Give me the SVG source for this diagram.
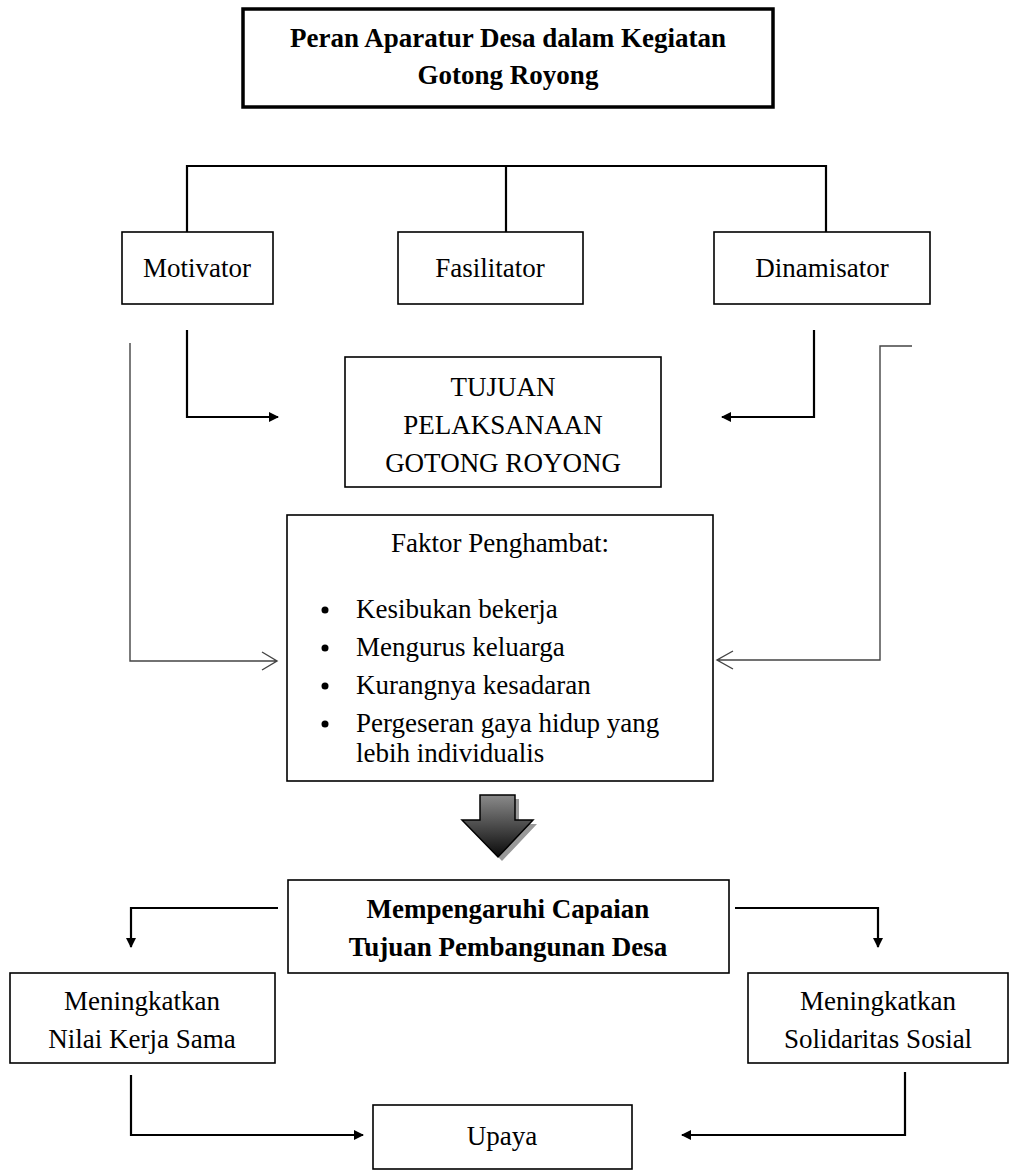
<svg xmlns="http://www.w3.org/2000/svg" width="1017" height="1173" viewBox="0 0 1017 1173">
<style>
text{font-family:"Liberation Serif","Times New Roman",serif;font-size:27px;fill:#000;text-anchor:middle}
.b{font-weight:bold}
.box{fill:#fff;stroke:#000;stroke-width:1.6}
.thick{fill:#fff;stroke:#000;stroke-width:3.5}
.ln{fill:none;stroke:#000;stroke-width:2.2}
.thin{fill:none;stroke:#444;stroke-width:1.4}
.lt{text-anchor:start}
</style>
<defs>
<marker id="ah" markerWidth="10" markerHeight="10" refX="9" refY="5" orient="auto" markerUnits="userSpaceOnUse" viewBox="0 0 10 10">
<path d="M0,0 L10,5 L0,10 z" fill="#000"/>
</marker>
<linearGradient id="g" x1="0" y1="0" x2="0" y2="1">
<stop offset="0" stop-color="#8a8a8a"/>
<stop offset="1" stop-color="#0a0a0a"/>
</linearGradient>
</defs>
<g id="connectors">
<path class="ln" d="M187,232 V166 H826 V232 M506,166 V232"/>
<path class="ln" d="M187,330 V417 H278" marker-end="url(#ah)"/>
<path class="ln" d="M814,330 V417 H722" marker-end="url(#ah)"/>
<path class="thin" d="M130,343 V661 H277 M262,652 L277,661 L262,670"/>
<path class="thin" d="M912,346 H880 V660 H717 M733,651 L717,660 L733,669"/>
<path class="ln" d="M278,908 H131 V947" marker-end="url(#ah)"/>
<path class="ln" d="M735,908 H878 V947" marker-end="url(#ah)"/>
<path class="ln" d="M131,1075 V1135 H363" marker-end="url(#ah)"/>
<path class="ln" d="M905,1072 V1135 H682" marker-end="url(#ah)"/>
</g>
<g id="title">
<rect class="thick" x="243" y="9" width="530" height="98"/>
<text class="b" x="508" y="47">Peran Aparatur Desa dalam Kegiatan</text>
<text class="b" x="508" y="84">Gotong Royong</text>
</g>
<g id="motivator">
<rect class="box" x="122" y="232" width="151" height="72"/>
<text x="197" y="277">Motivator</text>
</g>
<g id="fasilitator">
<rect class="box" x="398" y="232" width="185" height="72"/>
<text x="490" y="277">Fasilitator</text>
</g>
<g id="dinamisator">
<rect class="box" x="714" y="232" width="216" height="72"/>
<text x="822" y="277">Dinamisator</text>
</g>
<g id="tujuan">
<rect class="box" x="345" y="357" width="316" height="130"/>
<text x="503" y="396">TUJUAN</text>
<text x="503" y="434">PELAKSANAAN</text>
<text x="503" y="472">GOTONG ROYONG</text>
</g>
<g id="faktor">
<rect class="box" x="287" y="515" width="426" height="266"/>
<text x="500" y="552">Faktor Penghambat:</text>
<g>
<circle cx="325" cy="610" r="3.5"/><text class="lt" x="356" y="618">Kesibukan bekerja</text>
<circle cx="325" cy="648" r="3.5"/><text class="lt" x="356" y="656">Mengurus keluarga</text>
<circle cx="325" cy="686" r="3.5"/><text class="lt" x="356" y="694">Kurangnya kesadaran</text>
<circle cx="325" cy="724" r="3.5"/><text class="lt" x="356" y="732">Pergeseran gaya hidup yang</text>
<text class="lt" x="356" y="762">lebih individualis</text>
</g>
</g>
<g id="big-arrow">
<path d="M484,799 H519 V824 H537 L502,861 L466,824 H484 Z" fill="#999"/>
<path d="M480,795 H515 V820 H533 L498,857 L462,820 H480 Z" fill="url(#g)" stroke="#000" stroke-width="1.5"/>
</g>
<g id="mempengaruhi">
<rect class="box" x="288" y="880" width="441" height="93"/>
<text class="b" x="508" y="918">Mempengaruhi Capaian</text>
<text class="b" x="508" y="956">Tujuan Pembangunan Desa</text>
</g>
<g id="nilai">
<rect class="box" x="10" y="973" width="265" height="90"/>
<text x="142" y="1010">Meningkatkan</text>
<text x="142" y="1048">Nilai Kerja Sama</text>
</g>
<g id="solidaritas">
<rect class="box" x="748" y="973" width="260" height="90"/>
<text x="878" y="1010">Meningkatkan</text>
<text x="878" y="1048">Solidaritas Sosial</text>
</g>
<g id="upaya">
<rect class="box" x="373" y="1105" width="259" height="64"/>
<text x="502" y="1145">Upaya</text>
</g>
</svg>
